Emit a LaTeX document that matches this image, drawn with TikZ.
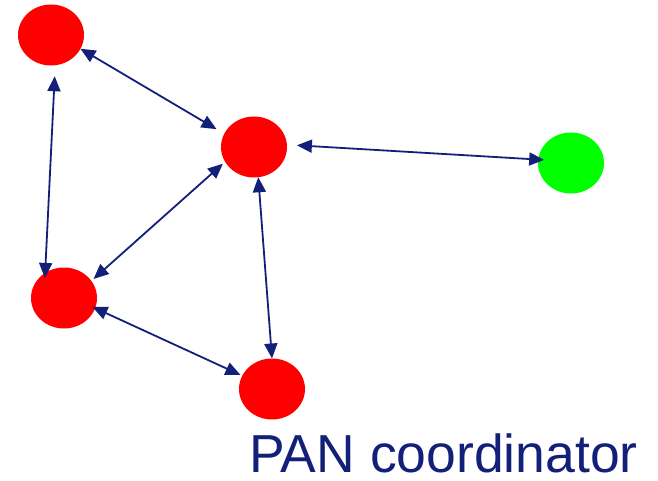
\documentclass[tikz,border=0pt]{standalone}
\usepackage{fontspec}
\setmainfont{Liberation Sans}
\usetikzlibrary{shapes.geometric,arrows.meta}
\definecolor{navy}{HTML}{13207A}
\definecolor{nodered}{HTML}{FF0000}
\definecolor{nodegreen}{HTML}{00FF00}
\tikzset{
  device/.style={ellipse, minimum width=66pt, minimum height=61pt, inner sep=0pt, outer sep=0pt, fill=nodered},
  coord/.style={device, fill=nodegreen},
  link/.style={draw=navy, line width=1.8pt, {Triangle[length=15pt,width=13pt]}-{Triangle[length=15pt,width=13pt]}},
}
\begin{document}
\begin{tikzpicture}[x=1pt,y=1pt]
  \useasboundingbox (0,0) rectangle (658,480);
  % devices
  \node[device] (A) at (51,445) {};
  \node[device] (B) at (254,333) {};
  \node[coord]  (C) at (571,317) {};
  \node[device] (D) at (64,182) {};
  \node[device] (E) at (272,91) {};
  % links
  \draw[link] (A.-25) -- (B.156) [shorten >=9pt];
  \draw[link, shorten <=11pt, shorten >=-5pt] (A.-82) -- (D.127);
  \draw[link, shorten <=10pt, shorten >=-6pt] (B.4) -- (C.174);
  \draw[link, shorten <=3pt, shorten >=3pt] (B.207) -- (D.32);
  \draw[link] (B.-82) -- (E.90);
  \draw[link, shorten <=-3pt, shorten >=2pt] (D.-18) -- (E.156);
  % label
  \node[anchor=base west, inner sep=0pt, text=navy, font=\fontsize{53.5pt}{60pt}\selectfont] (L) at (249,7.5) {PAN coordinator};
\end{tikzpicture}
\end{document}
